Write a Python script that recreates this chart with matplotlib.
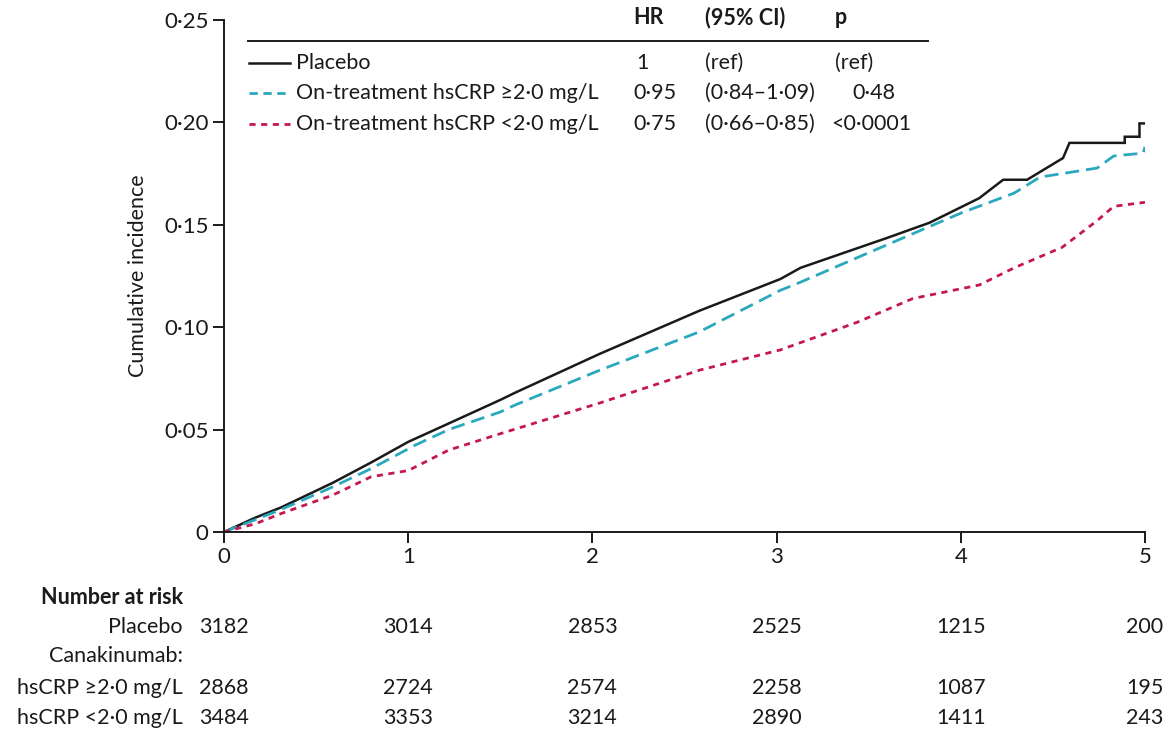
import matplotlib
matplotlib.use("Agg")
import matplotlib.pyplot as plt
from matplotlib.transforms import blended_transform_factory

plt.rcParams['font.family'] = ['Lato', 'DejaVu Sans']

# ---- data ----
placebo_t = [0, 0.17, 0.31, 0.59, 0.80, 1.0, 1.22, 1.5, 1.58, 2.04, 2.58, 3.02, 3.13,
             3.6, 3.83, 4.1, 4.23, 4.36, 4.555, 4.59, 4.89, 4.89, 4.97, 4.97, 5.0]
placebo_y = [0, 0.007, 0.012, 0.024, 0.034, 0.044, 0.053, 0.0645, 0.068, 0.087, 0.108, 0.1235, 0.129,
             0.1436, 0.151, 0.163, 0.172, 0.172, 0.1826, 0.190, 0.190, 0.193, 0.193, 0.1995, 0.1995]

high_t = [0, 0.17, 0.31, 0.59, 0.80, 1.04, 1.22, 1.5, 1.58, 2.04, 2.58, 3.02, 3.13,
          3.56, 4.0, 4.29, 4.43, 4.74, 4.83, 4.99, 5.0]
high_y = [0, 0.006, 0.011, 0.022, 0.031, 0.0425, 0.050, 0.0586, 0.062, 0.079, 0.0977, 0.118, 0.122,
          0.1387, 0.1557, 0.1655, 0.1733, 0.1777, 0.1836, 0.185, 0.188]

low_t = [0, 0.17, 0.31, 0.59, 0.80, 1.0, 1.22, 1.5, 2.04, 2.58, 3.02, 3.44, 3.74,
         4.1, 4.29, 4.55, 4.74, 4.83, 5.0]
low_y = [0, 0.004, 0.009, 0.018, 0.027, 0.030, 0.040, 0.048, 0.063, 0.079, 0.0889, 0.1025, 0.114,
         0.1206, 0.129, 0.139, 0.152, 0.159, 0.161]

x_ticks = [0, 1, 2, 3, 4, 5]
y_ticks = [0, 0.05, 0.10, 0.15, 0.20, 0.25]
y_ticklabels = ['0', '0·05', '0·10', '0·15', '0·20', '0·25']

legend_labels = ['Placebo', 'On-treatment hsCRP ≥2·0 mg/L', 'On-treatment hsCRP <2·0 mg/L']
hr_values = ['1', '0·95', '0·75']
ci_values = ['(ref)', '(0·84–1·09)', '(0·66–0·85)']
p_values = ['(ref)', '0·48', '<0·0001']

risk_labels = ['Placebo', 'hsCRP ≥2·0 mg/L', 'hsCRP <2·0 mg/L']
risk_placebo = [3182, 3014, 2853, 2525, 1215, 200]
risk_high = [2868, 2724, 2574, 2258, 1087, 195]
risk_low = [3484, 3353, 3214, 2890, 1411, 243]

# ---- styling ----
c_black = '#1a1a1a'
c_teal = '#2aa9bd'
c_red = '#c4184e'
fs = 15.5
fs_tick = 16

fig = plt.figure(figsize=(11.75, 7.32), dpi=100)
W, H = 1175, 732
ax = fig.add_axes([224 / W, 1 - 532 / H, (1145 - 224) / W, (532 - 20) / H])

ax.plot(placebo_t, placebo_y, color=c_black, lw=1.8, solid_joinstyle='miter')
ax.plot(high_t, high_y, color=c_teal, lw=2.0, dashes=(5, 2.5))
ax.plot(low_t, low_y, color=c_red, lw=2.0, dashes=(2.2, 2.0))

ax.set_xlim(0, 5)
ax.set_ylim(0, 0.25)
ax.set_xticks(x_ticks)
ax.set_xticklabels([str(v) for v in x_ticks])
ax.set_yticks(y_ticks)
ax.set_yticklabels(y_ticklabels)
for s in ['top', 'right']:
    ax.spines[s].set_visible(False)
for s in ['left', 'bottom']:
    ax.spines[s].set_linewidth(1.4)
    ax.spines[s].set_color(c_black)
ax.tick_params(axis='both', direction='out', length=8, width=1.4, labelsize=fs_tick,
               colors=c_black, pad=3)
ax.set_ylabel('Cumulative incidence', fontsize=fs, color=c_black, labelpad=12)

# ---- legend table ----
ft = fig.transFigure
def fx(px):
    return px / W
def fy(py):
    return 1 - py / H

fig.text(fx(633), fy(18), 'HR', fontsize=fs, fontweight='bold', va='center', color=c_black)
fig.text(fx(705), fy(18), '(95% CI)', fontsize=fs, fontweight='bold', va='center', color=c_black)
fig.text(fx(835), fy(18), 'p', fontsize=fs, fontweight='bold', va='center', color=c_black)
fig.add_artist(plt.Line2D([fx(248), fx(928)], [fy(41), fy(41)], transform=ft,
                          color=c_black, lw=1.4))

row_y = [63, 93, 124]
styles = [dict(color=c_black, lw=1.8),
          dict(color=c_teal, lw=2.0, dashes=(3, 2)),
          dict(color=c_red, lw=2.0, dashes=(2.2, 2.0))]
hr_x = [636, 633, 633]
p_x = [835, 852, 831]
for i in range(3):
    yy = fy(row_y[i])
    fig.add_artist(plt.Line2D([fx(249), fx(290)], [yy, yy], transform=ft, **styles[i]))
    fig.text(fx(296), yy, legend_labels[i], fontsize=fs, va='center', color=c_black)
    fig.text(fx(hr_x[i]), yy, hr_values[i], fontsize=fs, va='center', color=c_black)
    fig.text(fx(705), yy, ci_values[i], fontsize=fs, va='center', color=c_black)
    fig.text(fx(p_x[i]), yy, p_values[i], fontsize=fs, va='center', color=c_black)

# ---- number at risk ----
bt = blended_transform_factory(ax.transData, ft)
fig.text(fx(183), fy(597), 'Number at risk', fontsize=fs, fontweight='bold',
         ha='right', va='center', color=c_black)
fig.text(fx(183), fy(656), 'Canakinumab:', fontsize=fs, ha='right', va='center', color=c_black)
risk_rows = [(risk_labels[0], risk_placebo, 627),
             (risk_labels[1], risk_high, 688),
             (risk_labels[2], risk_low, 718)]
for lab, vals, py in risk_rows:
    fig.text(fx(183), fy(py), lab, fontsize=fs, ha='right', va='center', color=c_black)
    for t, v in zip(x_ticks, vals):
        ax.text(t, fy(py), str(v), transform=bt, fontsize=fs, ha='center', va='center',
                color=c_black, clip_on=False)

fig.savefig('out.png', dpi=100, facecolor='white')
